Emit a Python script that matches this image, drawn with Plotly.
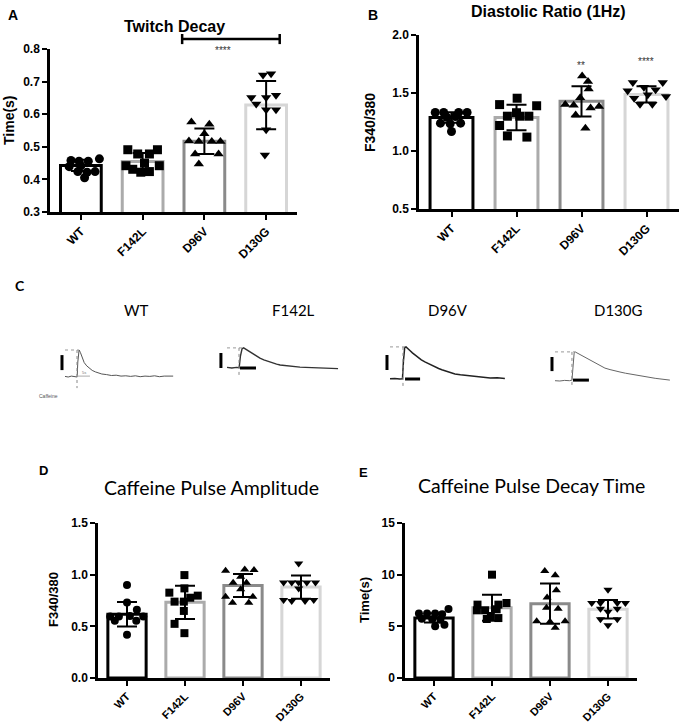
import plotly.graph_objects as go

W, H = 679, 722

# ---------------- data ----------------
groups = ["WT", "F142L", "D96V", "D130G"]

# A: Twitch decay (s)
twitch_mean = [0.443, 0.455, 0.517, 0.628]
twitch_sd = [0.017, 0.026, 0.039, 0.074]
twitch_pts = [
    [0.458, 0.456, 0.456, 0.463, 0.439, 0.424, 0.422, 0.424, 0.405, 0.442],
    [0.491, 0.478, 0.491, 0.442, 0.431, 0.422, 0.424, 0.442, 0.478, 0.450],
    [0.576, 0.569, 0.540, 0.518, 0.516, 0.516, 0.516, 0.478, 0.478, 0.447],
    [0.720, 0.724, 0.651, 0.651, 0.658, 0.631, 0.614, 0.614, 0.552, 0.475],
]
twitch_dx = [
    [-0.16, -0.03, 0.12, 0.30, -0.19, -0.05, 0.10, 0.23, 0.06, 0.0],
    [-0.24, 0.11, 0.24, -0.27, -0.16, -0.03, 0.11, 0.27, -0.08, 0.03],
    [-0.21, 0.08, 0.0, -0.25, -0.09, 0.12, 0.26, -0.15, 0.23, -0.09],
    [-0.05, 0.08, -0.24, 0.0, 0.16, -0.16, 0.0, 0.16, 0.0, -0.02],
]

# B: Diastolic ratio (1Hz)
diast_mean = [1.289, 1.289, 1.428, 1.488]
diast_sd = [0.045, 0.11, 0.13, 0.07]
diast_pts = [
    [1.332, 1.332, 1.332, 1.332, 1.240, 1.234, 1.240, 1.168, 1.290, 1.297],
    [1.455, 1.400, 1.390, 1.330, 1.300, 1.300, 1.300, 1.220, 1.130, 1.120],
    [1.647, 1.600, 1.535, 1.460, 1.400, 1.395, 1.383, 1.370, 1.310, 1.197],
    [1.590, 1.590, 1.550, 1.520, 1.527, 1.484, 1.455, 1.470, 1.403, 1.403],
]
diast_dx = [
    [-0.25, -0.12, 0.11, 0.24, -0.17, -0.02, 0.14, 0.0, -0.07, 0.06],
    [0.01, -0.26, 0.31, 0.0, -0.14, 0.05, 0.19, -0.26, -0.14, 0.16],
    [0.01, 0.10, 0.11, -0.02, -0.25, -0.12, 0.27, 0.14, -0.09, 0.06],
    [-0.21, 0.25, -0.04, -0.29, 0.14, 0.02, -0.19, 0.30, -0.10, 0.09],
]

# D: Caffeine pulse amplitude (F340/380)
amp_mean = [0.617, 0.732, 0.895, 0.880]
amp_sd = [0.118, 0.160, 0.112, 0.112]
amp_pts = [
    [0.900, 0.730, 0.660, 0.594, 0.594, 0.600, 0.594, 0.553, 0.553, 0.418],
    [0.996, 0.826, 0.867, 0.797, 0.739, 0.739, 0.777, 0.649, 0.524, 0.434],
    [1.038, 1.050, 1.044, 0.922, 0.922, 0.858, 0.787, 0.787, 0.729, 0.729, 0.980],
    [1.108, 0.925, 0.925, 0.925, 0.925, 0.867, 0.755, 0.745, 0.745, 0.755, 0.925],
]
amp_dx = [
    [0.0, 0.0, 0.17, -0.29, -0.14, 0.05, 0.28, -0.21, 0.16, 0.0],
    [-0.01, -0.27, -0.01, 0.22, -0.18, -0.02, 0.09, -0.02, -0.18, -0.01],
    [-0.30, 0.03, 0.19, -0.17, 0.06, -0.04, -0.30, 0.17, -0.18, 0.10, -0.04],
    [-0.04, -0.30, -0.16, 0.10, 0.25, -0.04, -0.30, -0.16, 0.07, 0.22, -0.04],
]

# E: Caffeine pulse decay time (s)
dec_mean = [5.81, 6.80, 7.19, 6.65]
dec_sd = [0.45, 1.25, 1.95, 0.90]
dec_pts = [
    [6.23, 6.23, 6.23, 6.16, 6.68, 5.74, 5.68, 5.65, 5.00, 5.16],
    [10.0, 7.26, 7.10, 7.10, 6.55, 6.55, 6.65, 5.71, 5.80, 6.00],
    [10.35, 9.94, 8.50, 7.80, 6.80, 6.70, 5.50, 5.45, 5.48, 4.87],
    [8.55, 7.26, 7.26, 7.26, 7.26, 6.70, 6.70, 6.40, 5.68, 5.68, 5.10],
]
dec_dx = [
    [-0.26, -0.12, 0.02, 0.14, 0.25, -0.21, -0.03, 0.11, 0.02, 0.18],
    [0.0, 0.25, -0.25, 0.11, -0.26, -0.12, 0.08, -0.09, 0.11, -0.02],
    [-0.09, 0.09, 0.11, -0.05, -0.06, 0.14, -0.23, 0.0, 0.26, 0.09],
    [0.0, -0.28, -0.13, 0.16, 0.30, -0.13, 0.16, 0.0, -0.13, 0.16, 0.0],
]

# C: caffeine transients (time s, delta ratio)
wt_t = [0, 1, 2, 3, 3.8, 4.0, 4.4, 4.8, 5.3, 6, 6.8, 7.6, 8.5, 9.5, 10.5, 11.5, 13, 14.5,
        16, 17.5, 19, 20.5, 22, 23.5, 25, 26.5, 28, 29.5, 31, 32.5, 33.8]
wt_f = [0.02, 0.0, 0.03, 0.01, 0.0, 0.5, 0.9, 0.82, 0.65, 0.48, 0.37, 0.29, 0.22, 0.17, 0.13,
        0.10, 0.08, 0.05, 0.06, 0.03, 0.04, 0.02, 0.04, 0.01, 0.03, 0.02, 0.04, 0.01, 0.03, 0.02, 0.03]
f142l_t = [0, 1.5, 3, 3.8, 4.2, 4.7, 5.2, 5.8, 6.5, 7.2, 8, 9, 10.3, 11.5, 12.5, 13.4, 14.5,
           15.5, 16.6, 18, 19.5, 21, 22.8, 24.5, 26.5, 28.5, 30.5, 32.5, 34.7]
f142l_f = [0.02, 0.0, 0.02, 0.01, 0.4, 0.64, 0.67, 0.63, 0.57, 0.51, 0.46, 0.40, 0.33, 0.27,
           0.23, 0.20, 0.16, 0.13, 0.10, 0.08, 0.06, 0.05, 0.03, 0.02, 0.01, 0.0, -0.01, -0.02, -0.02]
d96v_t = [0, 1.5, 3, 3.9, 4.2, 4.6, 5.0, 5.6, 6.3, 7, 7.8, 8.8, 9.8, 10.9, 12, 13, 14.1, 15.2,
          16.2, 17.2, 18.7, 20.3, 22, 23.5, 25, 27, 29, 31.3, 33.5, 35.9]
d96v_f = [0.01, 0.02, 0.0, 0.01, 0.6, 1.05, 1.07, 1.02, 0.94, 0.87, 0.80, 0.72, 0.64, 0.57,
          0.51, 0.45, 0.40, 0.35, 0.31, 0.27, 0.22, 0.17, 0.14, 0.12, 0.10, 0.07, 0.05, 0.03, 0.04, 0.02]
d130g_t = [0, 1.5, 3, 4.5, 5.3, 5.6, 6.0, 6.3, 7, 8, 9.4, 10.9, 12.5, 14, 15.6, 17.2, 18.8,
           20.3, 22, 23.5, 25, 26.6, 28.2, 29.8, 31.3, 32.8, 34.3, 35.9]
d130g_f = [0.01, 0.0, 0.02, 0.01, 0.03, 0.6, 0.95, 0.97, 0.93, 0.85, 0.77, 0.68, 0.60, 0.51,
           0.43, 0.38, 0.33, 0.30, 0.26, 0.23, 0.20, 0.17, 0.14, 0.11, 0.09, 0.07, 0.05, 0.03]

# ---------------- style ----------------
bar_colors = ["#000000", "#ababab", "#8a8a8a", "#d6d6d6"]
symbols = ["circle", "square", "triangle-up", "triangle-down"]
ARIAL = "Liberation Sans, Arial, sans-serif"
CAL = "Lato, Open Sans, sans-serif"

fig = go.Figure()


def dom_x(a, b):
    return [a / W, b / W]


def dom_y(top, bottom):
    return [1 - bottom / H, 1 - top / H]


def to_paper(dom, rng, v):
    return dom[0] + (v - rng[0]) / (rng[1] - rng[0]) * (dom[1] - dom[0])


panels = [
    dict(n=1, xd=dom_x(50, 297), yd=dom_y(49, 212), yr=[0.3, 0.8], dt=0.1, fmt=".1f",
         mean=twitch_mean, sd=twitch_sd, pts=twitch_pts, dx=twitch_dx, ms=9, xfs=12),
    dict(n=2, xd=dom_x(419, 679), yd=dom_y(35, 209), yr=[0.5, 2.0], dt=0.5, fmt=".1f",
         mean=diast_mean, sd=diast_sd, pts=diast_pts, dx=diast_dx, ms=9, xfs=12),
    dict(n=3, xd=dom_x(98, 330), yd=dom_y(523, 678), yr=[0, 1.5], dt=0.5, fmt=".1f",
         mean=amp_mean, sd=amp_sd, pts=amp_pts, dx=amp_dx, ms=8, xfs=11),
    dict(n=4, xd=dom_x(405, 637), yd=dom_y(523, 678), yr=[0, 15], dt=5, fmt="d",
         mean=dec_mean, sd=dec_sd, pts=dec_pts, dx=dec_dx, ms=8, xfs=11),
]

XR = [-0.5, 3.5]

for p in panels:
    n = p["n"]
    xa, ya = f"x{n}", f"y{n}"
    fig.add_trace(go.Bar(
        x=list(range(4)), y=p["mean"], width=0.66, xaxis=xa, yaxis=ya,
        marker=dict(color="white", line=dict(color=bar_colors, width=3)),
        hoverinfo="skip"))
    for i in range(4):
        fig.add_trace(go.Scatter(
            x=[i + d for d in p["dx"][i]], y=p["pts"][i], mode="markers",
            xaxis=xa, yaxis=ya, cliponaxis=False,
            marker=dict(symbol=symbols[i], size=p["ms"], color="black")))
    fig.add_trace(go.Scatter(
        x=list(range(4)), y=p["mean"], mode="markers", xaxis=xa, yaxis=ya,
        marker=dict(size=1, color="rgba(0,0,0,0)"),
        error_y=dict(type="data", array=p["sd"], color="black", thickness=2, width=10)))
    key = "" if n == 1 else str(n)
    fig.layout[f"xaxis{key}"] = dict(
        domain=p["xd"], anchor=ya, range=XR, tickvals=list(range(4)), ticktext=groups,
        tickangle=-45, tickfont=dict(family=ARIAL, size=p["xfs"], color="black", weight="bold"),
        showline=True, linecolor="black", linewidth=2.5,
        ticks="outside", ticklen=5, tickwidth=2, tickcolor="black", showgrid=False,
        zeroline=False, automargin=False, fixedrange=True)
    fig.layout[f"yaxis{key}"] = dict(
        domain=p["yd"], anchor=xa, range=p["yr"], dtick=p["dt"], tick0=0,
        tickformat=p["fmt"], tickfont=dict(family=ARIAL, size=12, color="black", weight="bold"),
        showline=True, linecolor="black",
        linewidth=2.5, ticks="outside", ticklen=5, tickwidth=2, tickcolor="black",
        showgrid=False, zeroline=False, automargin=False, fixedrange=True)

# ---------------- panel C transients ----------------
PX_S, PX_U = 3.2, 30.0
traces_c = [
    dict(n=5, t=wt_t, f=wt_f, x0=65, base=377, x1=175, color="#555555", w=1.0),
    dict(n=6, t=f142l_t, f=f142l_f, x0=227, base=368, x1=342, color="#333333", w=1.4),
    dict(n=7, t=d96v_t, f=d96v_f, x0=390, base=379, x1=507, color="#222222", w=1.5),
    dict(n=8, t=d130g_t, f=d130g_f, x0=555, base=381, x1=672, color="#666666", w=1.0),
]
# scale bars etc.: (vbar_t, vbar_a0, vbar_a1, hbar_t0, hbar_t1, hbar_a, peak_t, peak_a, line_t, line_a_low)
c_marks = [
    (-0.94, 0.23, 0.73, None, None, None, 4.4, 0.9, 3.75, -0.37),
    (-1.9, 0.0, 0.5, 4.06, 9.06, 0.0, 5.0, 0.67, 3.75, -0.27),
    (-0.94, 0.3, 0.8, 4.7, 9.4, 0.0, 4.7, 1.07, 4.06, -0.3),
    (-0.94, 0.33, 0.8, 5.6, 10.6, 0.03, 6.25, 0.97, 5.3, -0.13),
]
shapes = []
for tc, mk in zip(traces_c, c_marks):
    n = tc["n"]
    xd = dom_x(tc["x0"] - 14, tc["x1"])
    yd = dom_y(340, 398)
    xr = [-14 / PX_S, (tc["x1"] - tc["x0"]) / PX_S]
    yr = [(tc["base"] - 398) / PX_U, (tc["base"] - 340) / PX_U]
    fig.layout[f"xaxis{n}"] = dict(domain=xd, range=xr, visible=False, anchor=f"y{n}", fixedrange=True)
    fig.layout[f"yaxis{n}"] = dict(domain=yd, range=yr, visible=False, anchor=f"x{n}", fixedrange=True)
    fig.add_trace(go.Scatter(x=tc["t"], y=tc["f"], mode="lines", xaxis=f"x{n}", yaxis=f"y{n}",
                             line=dict(color=tc["color"], width=tc["w"])))
    vt, va0, va1, ht0, ht1, ha, pt, pa, lt, la = mk
    xref, yref = f"x{n}", f"y{n}"
    shapes.append(dict(type="line", xref=xref, yref=yref, x0=vt, x1=vt, y0=va0, y1=va1,
                       line=dict(color="black", width=3)))
    if ht0 is not None:
        shapes.append(dict(type="line", xref=xref, yref=yref, x0=ht0, x1=ht1, y0=ha, y1=ha,
                           line=dict(color="black", width=3)))
    shapes.append(dict(type="line", xref=xref, yref=yref, x0=0, x1=pt, y0=pa, y1=pa,
                       line=dict(color="#999999", width=1, dash="dot")))
    shapes.append(dict(type="line", xref=xref, yref=yref, x0=lt, x1=lt, y0=pa, y1=la,
                       line=dict(color="#888888", width=1, dash="dot")))
# WT small 5 s marker
shapes.append(dict(type="line", xref="x5", yref="y5", x0=3.75, x1=7.8, y0=0.03, y1=0.03,
                   line=dict(color="#aaaaaa", width=1)))

# ---------------- significance bracket (panel A) ----------------
pa_ = panels[0]
bx0 = to_paper(pa_["xd"], XR, 1.64)
bx1 = to_paper(pa_["xd"], XR, 3.22)
by = to_paper(pa_["yd"], pa_["yr"], 0.831)
byl = to_paper(pa_["yd"], pa_["yr"], 0.815)
byh = to_paper(pa_["yd"], pa_["yr"], 0.846)
for s in [dict(x0=bx0, x1=bx1, y0=by, y1=by), dict(x0=bx0, x1=bx0, y0=byl, y1=byh),
          dict(x0=bx1, x1=bx1, y0=byl, y1=byh)]:
    shapes.append(dict(type="line", xref="paper", yref="paper", line=dict(color="black", width=2.5), **s))

fig.update_layout(shapes=shapes)

# ---------------- text ----------------
anns = []


def ann(text, px, py, size, family=ARIAL, bold=False, angle=0, color="black"):
    anns.append(dict(text=text, x=px / W, y=1 - py / H, xref="paper", yref="paper",
                     showarrow=False, xanchor="center", yanchor="middle", textangle=angle,
                     font=dict(family=family, size=size, color=color,
                               weight="bold" if bold else "normal")))


ann("A", 13, 15, 14, bold=True)
ann("B", 373, 15, 14, bold=True)
ann("C", 20, 285, 14, family=CAL, bold=True)
ann("D", 43, 470, 13, bold=True)
ann("E", 363, 472, 13, bold=True)
ann("Twitch Decay", 175, 27, 16, bold=True)
ann("Diastolic Ratio (1Hz)", 548, 12, 16, bold=True)
ann("Caffeine Pulse Amplitude", 211, 487, 19.5, family=CAL)
ann("Caffeine Pulse Decay Time", 531, 485, 19.5, family=CAL)
ann("Time(s)", 9, 120, 14, bold=True, angle=-90)
ann("F340/380", 370, 122, 14, bold=True, angle=-90)
ann("F340/380", 53, 600, 13, bold=True, angle=-90)
ann("Time(s)", 364, 600, 13, bold=True, angle=-90)
ann("****", 223, 51, 10, color="#333333")
ann("**", 581, 65, 10, color="#333333")
ann("****", 646, 62, 10, color="#333333")
ann("WT", 136, 310, 15, family=CAL)
ann("F142L", 293, 310, 15, family=CAL)
ann("D96V", 448, 310, 15, family=CAL)
ann("D130G", 618, 310, 15, family=CAL)
ann("Caffeine", 48, 396, 5, color="#555555")
ann("5s", 84, 373, 4, color="#777777")

fig.update_layout(
    annotations=anns, width=W, height=H, margin=dict(l=0, r=0, t=0, b=0),
    paper_bgcolor="white", plot_bgcolor="white", showlegend=False, bargap=0.3)

fig.write_html("out.html", config={"displayModeBar": False},
               post_script="document.body.style.margin='0';")
